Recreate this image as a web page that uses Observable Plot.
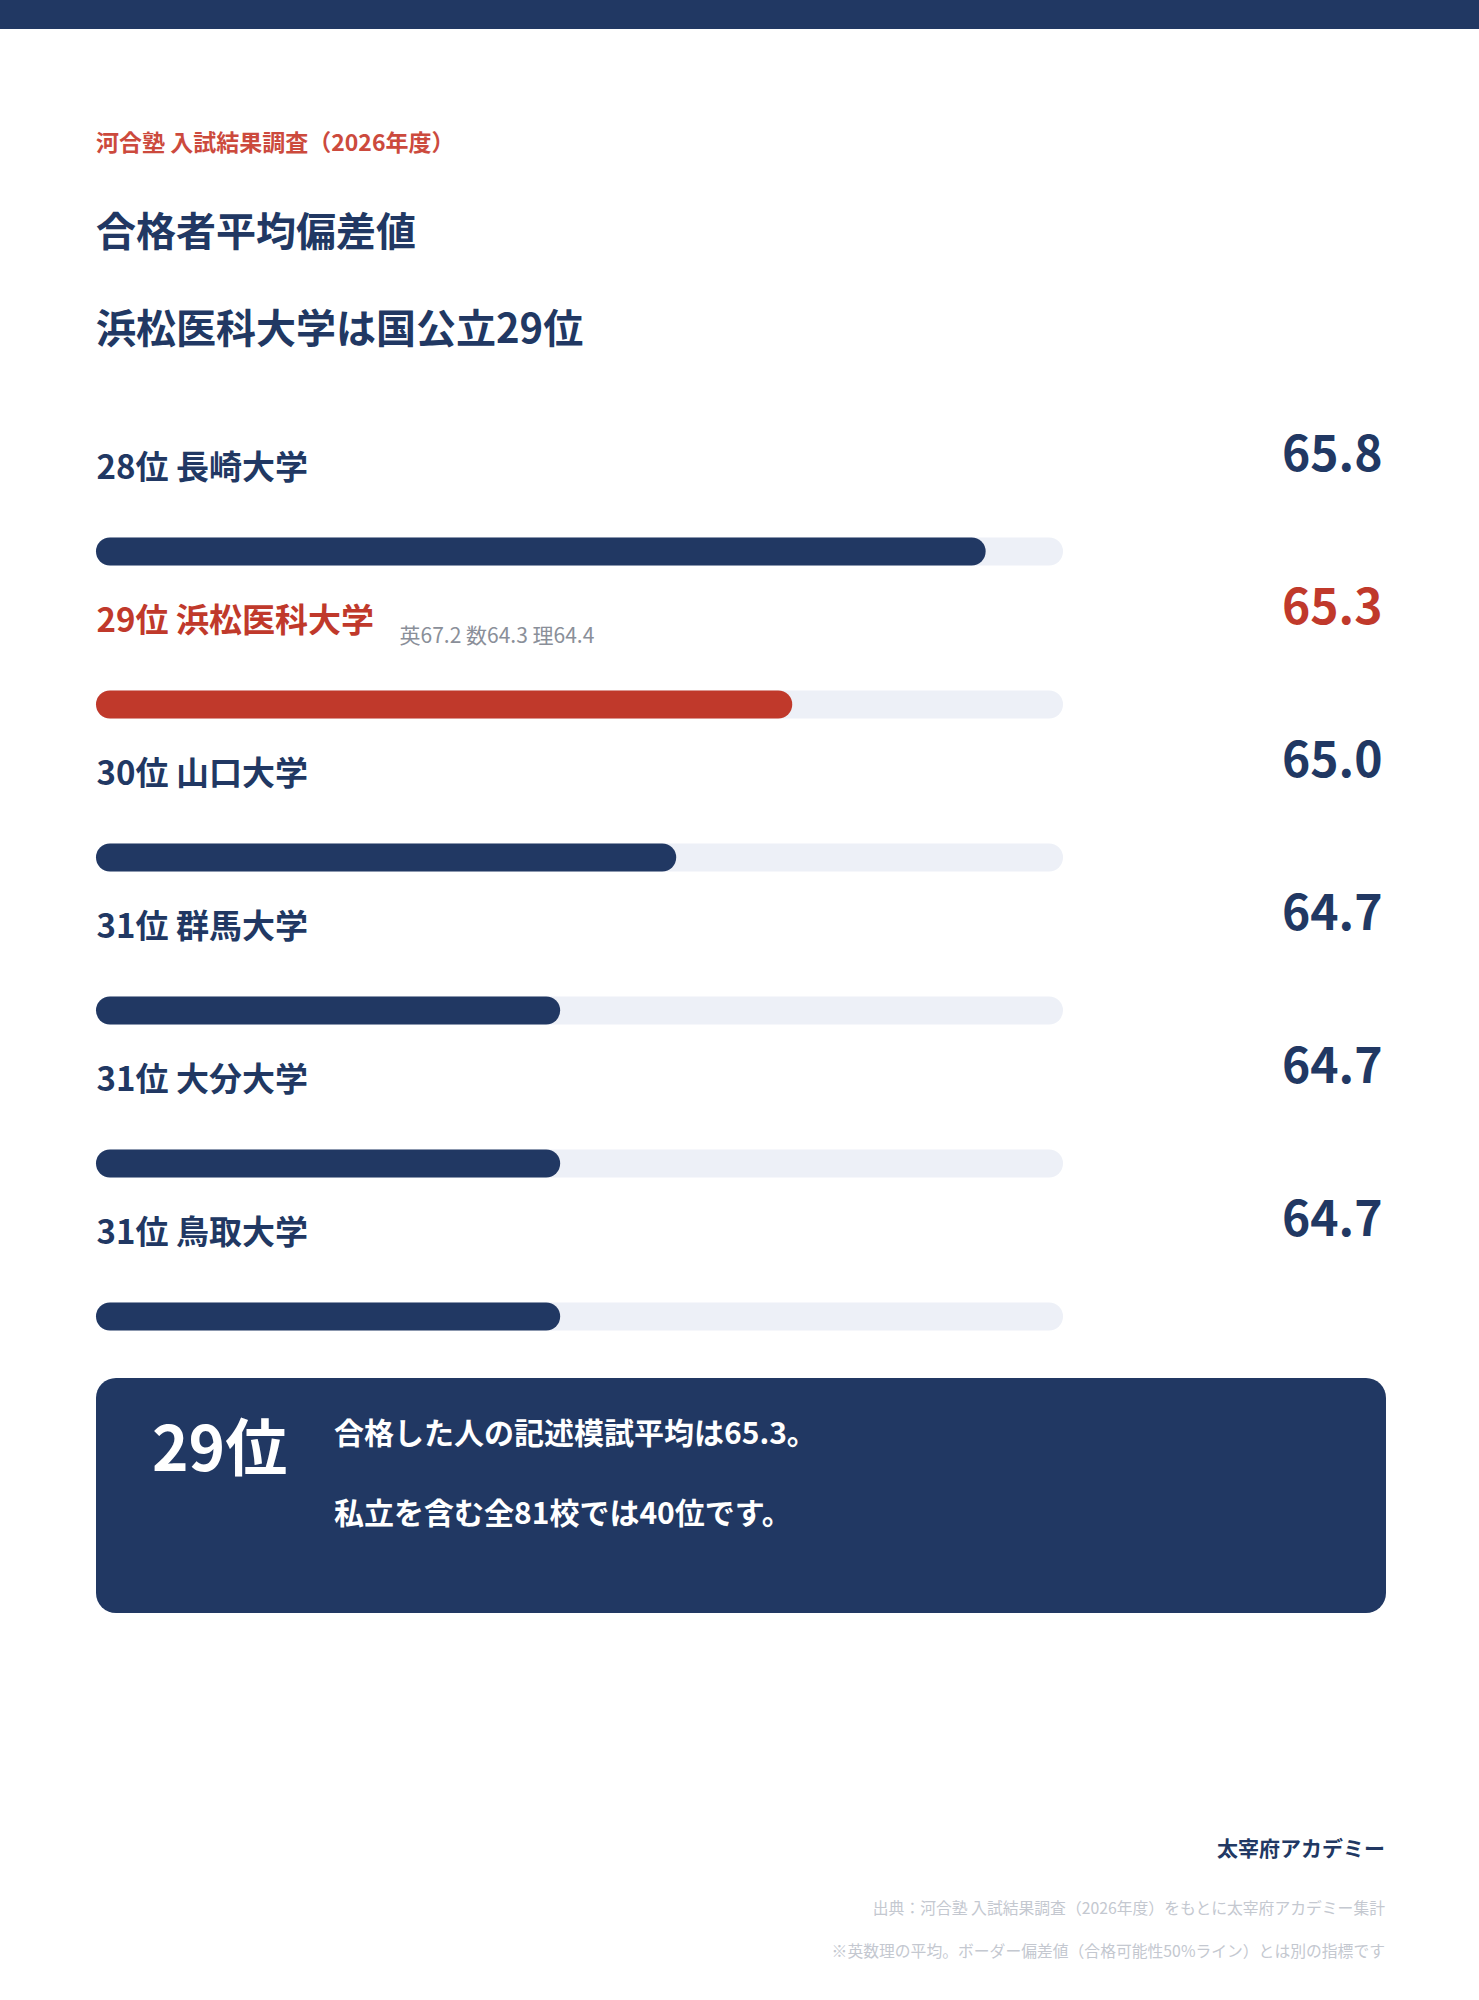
<!DOCTYPE html>
<html lang="ja">
<head>
<meta charset="utf-8">
<script src="https://cdn.jsdelivr.net/npm/d3@7"></script>
<script src="https://cdn.jsdelivr.net/npm/@observablehq/plot@0.6"></script>
<style>
  html, body { margin: 0; padding: 0; background: #fff; }
  body { width: 1479px; height: 2000px; position: relative; overflow: hidden;
         font-family: "Noto Sans CJK JP", "Noto Sans", sans-serif; }
  .abs { position: absolute; white-space: nowrap; line-height: 1; }
  #topbar { position: absolute; left: 0; top: 0; width: 1479px; height: 29px; background: #213863; }
  #chart { position: absolute; left: 0; top: 420px; }
  #box { position: absolute; left: 96px; top: 1378px; width: 1290px; height: 235px;
         background: #213863; border-radius: 20px; }
</style>
</head>
<body>
<div id="topbar"></div>
<div class="abs" style="left:96px; top:130px; font-size:23px; font-weight:700; color:#cc4a3d;">河合塾 入試結果調査（2026年度）</div>
<div class="abs" style="left:96px; top:209px; font-size:40px; font-weight:700; color:#213863;">合格者平均偏差値</div>
<div class="abs" style="left:96px; top:306px; font-size:40px; font-weight:700; color:#213863;">浜松医科大学は国公立29位</div>
<div id="chart"></div>
<div id="box">
  <div class="abs" style="left:56px; top:35px; font-size:62px; font-weight:700; color:#fff;">29位</div>
  <div class="abs" style="left:238px; top:38px; font-size:30px; font-weight:700; color:#fff;">合格した人の記述模試平均は65.3。</div>
  <div class="abs" style="left:238px; top:118px; font-size:30px; font-weight:700; color:#fff;">私立を含む全81校では40位です。</div>
</div>
<div class="abs" style="right:94px; top:1837px; font-size:21px; font-weight:700; color:#213863;">太宰府アカデミー</div>
<div class="abs" style="right:94px; top:1900px; font-size:15.8px; font-weight:400; color:#c4c8d0;">出典：河合塾 入試結果調査（2026年度）をもとに太宰府アカデミー集計</div>
<div class="abs" style="right:94px; top:1943px; font-size:15.8px; font-weight:400; color:#c4c8d0;">※英数理の平均。ボーダー偏差値（合格可能性50%ライン）とは別の指標です</div>

<script>
// ---- data ----
const ranks = ["28位", "29位", "30位", "31位", "31位", "31位"];
const schools = ["長崎大学", "浜松医科大学", "山口大学", "群馬大学", "大分大学", "鳥取大学"];
const scores = [65.8, 65.3, 65.0, 64.7, 64.7, 64.7];
const subjectScores = ["", "英67.2 数64.3 理64.4", "", "", "", ""];
const highlight = "浜松医科大学";
const xMin = 63.5, xMax = 66.0;

const navy = "#213863", red = "#c0392b", track = "#edf0f7";
const rows = schools.map((s, i) => ({
  school: s, rank: ranks[i], score: scores[i], sub: subjectScores[i],
  label: ranks[i] + " " + s
}));
const colorOf = d => d.school === highlight ? red : navy;
const font = "Noto Sans CJK JP";

const chart = Plot.plot({
  width: 1479,
  height: 958,
  marginLeft: 96,
  marginRight: 416,
  marginTop: 0,
  marginBottom: 0,
  style: { fontFamily: font, background: "transparent", overflow: "visible" },
  x: { domain: [xMin, xMax], axis: null },
  y: { domain: schools, range: [54.5, 972.5], padding: 0, axis: null },
  marks: [
    Plot.barX(rows, { y: "school", x1: () => xMin, x2: () => xMax, fill: track,
      insetTop: 62.5, insetBottom: 62.5, rx: 14 }),
    Plot.barX(rows, { y: "school", x1: () => xMin, x2: "score", fill: colorOf,
      insetTop: 62.5, insetBottom: 62.5, rx: 14 }),
    Plot.text(rows, { y: "school", text: "label", frameAnchor: "left", textAnchor: "start",
      dy: -84, fill: colorOf, fontSize: 33, fontWeight: 700, fontFamily: font }),
    Plot.text(rows.filter(d => d.sub), { y: "school", text: "sub", frameAnchor: "left", textAnchor: "start",
      dx: 303, dy: -69, fill: "#8a8f99", fontSize: 21, fontWeight: 400, fontFamily: font }),
    Plot.text(rows, { y: "school", text: d => d.score.toFixed(1), frameAnchor: "right", textAnchor: "end",
      dx: 319, dy: -96, fill: colorOf, fontSize: 48, fontWeight: 700, fontFamily: font })
  ]
});
document.getElementById("chart").appendChild(chart);
</script>
</body>
</html>
